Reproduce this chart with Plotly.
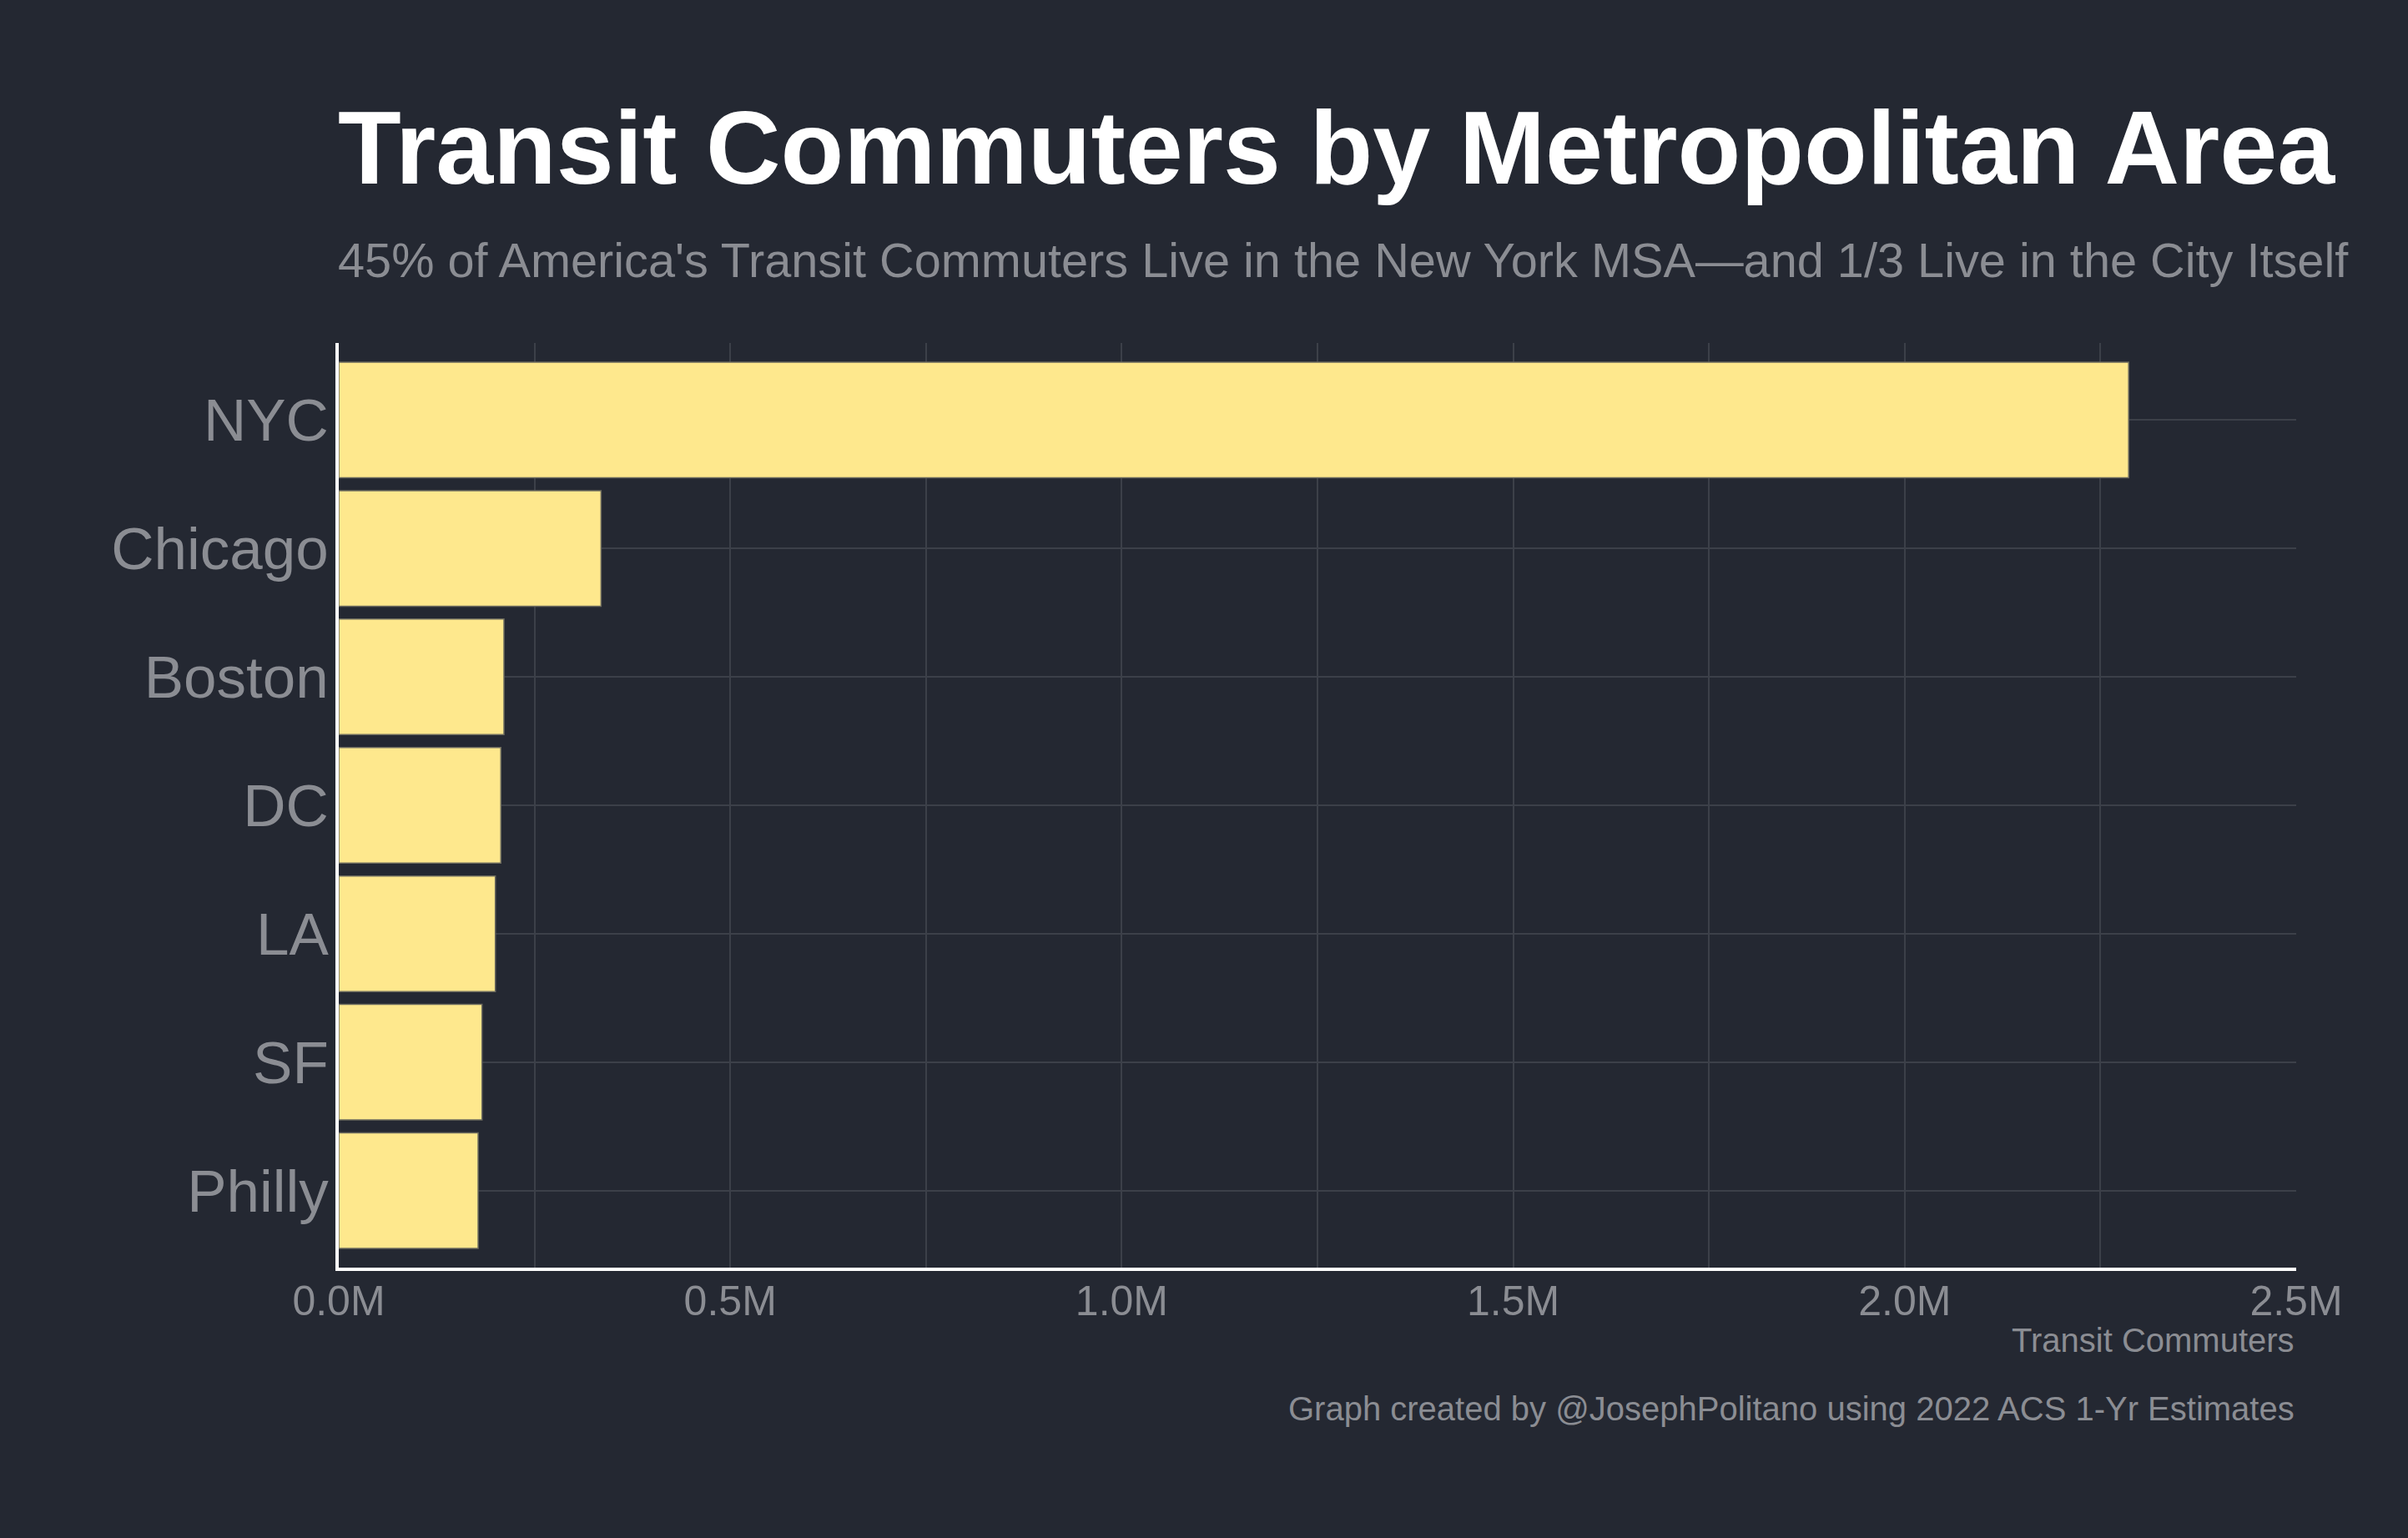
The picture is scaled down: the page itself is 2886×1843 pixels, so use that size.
import plotly.graph_objects as go

# Data
cities = ["NYC", "Chicago", "Boston", "DC", "LA", "SF", "Philly"]
commuters = [2286000, 335000, 211000, 207000, 200000, 183000, 178000]
tick_values = [0, 500000, 1000000, 1500000, 2000000, 2500000]
tick_labels = ["0.0M", "0.5M", "1.0M", "1.5M", "2.0M", "2.5M"]

BG = "#242832"
GRID = "#3c4049"
GRAY = "#8b8d93"
FONT = "Liberation Sans, Arial, sans-serif"

fig = go.Figure(
    go.Bar(
        x=commuters,
        y=cities,
        orientation="h",
        width=0.9,
        marker=dict(color="#FEE88D", line=dict(color="#6b6a5e", width=1.5)),
    )
)

W, H = 2886, 1843
L, R, T, B = 406, 134, 411, 324
ph = H - T - B

def py(ypix):
    return (H - B - ypix) / ph

fig.update_layout(
    width=W,
    height=H,
    margin=dict(l=L, r=R, t=T, b=B, autoexpand=False),
    paper_bgcolor=BG,
    plot_bgcolor=BG,
    showlegend=False,
    bargap=0.1,
    font=dict(family=FONT, color=GRAY),
    xaxis=dict(
        range=[0, 2500000],
        tickvals=tick_values,
        ticktext=tick_labels,
        tickfont=dict(size=50, color=GRAY),
        showgrid=True,
        gridcolor=GRID,
        gridwidth=2,
        minor=dict(dtick=250000, tick0=0, showgrid=True, gridcolor=GRID, gridwidth=2),
        zeroline=False,
        showline=True,
        linecolor="white",
        linewidth=4,
        ticks="",
        ticklabelstandoff=-7,
        fixedrange=True,
    ),
    yaxis=dict(
        categoryorder="array",
        categoryarray=cities,
        autorange=False,
        range=[6.6, -0.6],
        tickfont=dict(size=71, color=GRAY),
        showgrid=True,
        gridcolor=GRID,
        gridwidth=2,
        zeroline=False,
        showline=True,
        linecolor="white",
        linewidth=4,
        ticks="",
        ticklabelstandoff=-6,
    ),
    annotations=[
        dict(
            text="<b>Transit Commuters by Metropolitan Area</b>",
            x=0, xref="paper", xanchor="left", xshift=-3,
            y=py(177), yref="paper", yanchor="middle",
            showarrow=False,
            font=dict(size=124, color="white", family=FONT),
        ),
        dict(
            text="45% of America's Transit Commuters Live in the New York MSA\u2014and 1/3 Live in the City Itself",
            x=0, xref="paper", xanchor="left", xshift=-3,
            y=py(312), yref="paper", yanchor="middle",
            showarrow=False,
            font=dict(size=57.7, color=GRAY, family=FONT),
        ),
        dict(
            text="Transit Commuters",
            x=1, xref="paper", xanchor="right",
            y=py(1606), yref="paper", yanchor="middle",
            showarrow=False,
            font=dict(size=40, color=GRAY, family=FONT),
        ),
        dict(
            text="Graph created by @JosephPolitano using 2022 ACS 1-Yr Estimates",
            x=1, xref="paper", xanchor="right",
            y=py(1688), yref="paper", yanchor="middle",
            showarrow=False,
            font=dict(size=40, color=GRAY, family=FONT),
        ),
    ],
)

fig.write_html(
    "out.html",
    config={"displayModeBar": False},
    post_script="document.body.style.margin='0';document.body.style.background='" + BG + "';",
)
